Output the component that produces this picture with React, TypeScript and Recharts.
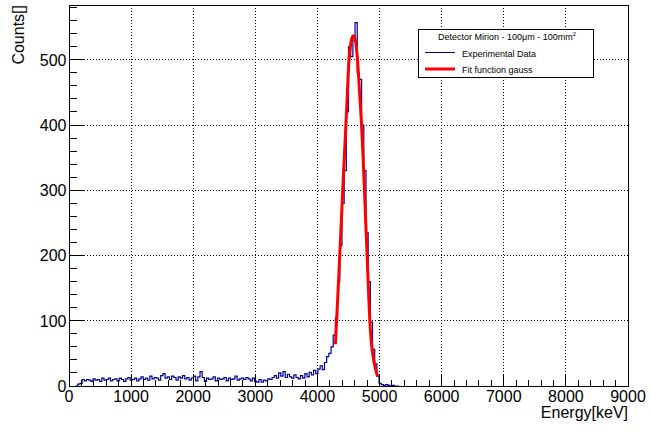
import React from "react";
import {
  CartesianGrid,
  ComposedChart,
  Line,
  ReferenceArea,
  XAxis,
  YAxis,
} from "recharts";

const FONT = '"Liberation Sans", Arial, Helvetica, sans-serif';
const HIST_COLOR = "#000099";
const FIT_COLOR = "#ff0000";

const E_MAX = 9000;
const N_BINS = 256;
const BIN_W = E_MAX / N_BINS;
const FIRST_BIN = 3;
const Y_MAX = 584;

// counts per bin, bins 3..59
const tailCounts = [
  0, 3, 4, 10, 8, 10, 9, 7, 11, 9, 10, 7, 12, 9, 10, 12, 8, 10, 11, 8, 12, 10,
  7, 11, 13, 9, 10, 12, 8, 11, 14, 10, 12, 9, 15, 11, 13, 12, 9, 16, 19, 12,
  14, 10, 15, 13, 9, 14, 12, 16, 11, 13, 9, 12, 15, 8, 14,
];
// bins 60..112
const plateauCounts = [
  22, 13, 7, 12, 10, 11, 14, 8, 12, 10, 11, 13, 8, 12, 10, 11, 15, 9, 11, 12,
  10, 13, 11, 8, 12, 7, 6, 10, 6, 9, 8, 11, 10, 13, 16, 12, 20, 15, 22, 13, 18,
  14, 12, 17, 13, 11, 16, 12, 19, 14, 21, 17, 24,
];
// bins 113..127
const riseCounts = [19, 26, 31, 25, 36, 45, 50, 60, 78, 104, 160, 215, 280, 330, 420];
// bins 128..136
const peakCounts = [520, 505, 530, 557, 480, 470, 400, 330, 235];
// bins 137..150
const fallCounts = [160, 98, 56, 34, 15, 4, 2, 1, 2, 1, 0, 1, 0, 0];

// gauss fit curve
const fitEnergy = [
  4290, 4308, 4334, 4359, 4383, 4407, 4432, 4458, 4482, 4508, 4540, 4575, 4610,
  4645, 4675, 4710, 4735, 4757, 4778, 4800, 4820, 4843, 4870, 4905, 4940, 4968,
];
const fitCounts = [
  64, 100, 150, 200, 250, 300, 350, 400, 450, 500, 527, 537, 530, 500, 455, 400,
  350, 300, 250, 200, 150, 100, 65, 40, 24, 15,
];

const xMajor = [0, 1000, 2000, 3000, 4000, 5000, 6000, 7000, 8000, 9000];
const yMajor = [0, 100, 200, 300, 400, 500];
const X_MINOR_STEP = 200;
const Y_MINOR_STEP = 20;

const counts = [
  ...tailCounts,
  ...plateauCounts,
  ...riseCounts,
  ...peakCounts,
  ...fallCounts,
];
const histData = counts.map((c, i) => ({ x: (FIRST_BIN + i) * BIN_W, y: c }));
histData.push({ x: (FIRST_BIN + counts.length) * BIN_W, y: 0 });

const fitData = fitEnergy.map((x, i) => ({ x, y: fitCounts[i] }));

const xTicks = Array.from({ length: E_MAX / X_MINOR_STEP + 1 }, (_, i) => i * X_MINOR_STEP);
const yTicks = Array.from(
  { length: Math.floor(Y_MAX / Y_MINOR_STEP) + 1 },
  (_, i) => i * Y_MINOR_STEP
);

function XTick(props: any) {
  const { x, y, payload } = props;
  const major = xMajor.includes(payload.value);
  return (
    <g>
      <line
        x1={x}
        x2={x}
        y1={y}
        y2={y - (major ? 11 : 6)}
        stroke="#000"
        shapeRendering="crispEdges"
      />
      {major && (
        <text
          x={x}
          y={y + 15.5}
          textAnchor="middle"
          fontSize={16}
          fontFamily={FONT}
          fill="#000"
        >
          {payload.value}
        </text>
      )}
    </g>
  );
}

function YTick(props: any) {
  const { x, y, payload } = props;
  const major = yMajor.includes(payload.value);
  return (
    <g>
      <line
        x1={x}
        x2={x + (major ? 16 : 8)}
        y1={y}
        y2={y}
        stroke="#000"
        shapeRendering="crispEdges"
      />
      {major && (
        <text
          x={x - 2.5}
          y={y}
          dy="0.36em"
          textAnchor="end"
          fontSize={16}
          fontFamily={FONT}
          fill="#000"
        >
          {payload.value}
        </text>
      )}
    </g>
  );
}

export default function App() {
  return (
    <div
      style={{
        position: "absolute",
        left: 0,
        top: 0,
        width: 651,
        height: 434,
        background: "#fff",
      }}
    >
      <ComposedChart
        width={651}
        height={434}
        margin={{ top: 5, right: 23, left: 0, bottom: 0 }}
      >
        <CartesianGrid
          stroke="#000"
          strokeDasharray="1 2"
          shapeRendering="crispEdges"
          verticalValues={xMajor.slice(1, -1)}
          horizontalValues={yMajor.slice(1)}
        />
        <XAxis
          type="number"
          dataKey="x"
          domain={[0, E_MAX]}
          ticks={xTicks}
          interval={0}
          height={48}
          tickSize={0}
          tickMargin={0}
          tickLine={false}
          axisLine={false}
          allowDataOverflow
          tick={<XTick />}
        />
        <YAxis
          type="number"
          dataKey="y"
          domain={[0, Y_MAX]}
          ticks={yTicks}
          interval={0}
          width={69}
          tickSize={0}
          tickMargin={0}
          tickLine={false}
          axisLine={false}
          allowDataOverflow
          tick={<YTick />}
        />
        <Line
          data={histData}
          dataKey="y"
          type="stepAfter"
          stroke={HIST_COLOR}
          strokeWidth={1.2}
          dot={false}
          isAnimationActive={false}
        />
        <Line
          data={fitData}
          dataKey="y"
          type="monotone"
          stroke={FIT_COLOR}
          strokeWidth={3}
          dot={false}
          isAnimationActive={false}
        />
        <ReferenceArea
          x1={0}
          x2={E_MAX}
          y1={0}
          y2={Y_MAX}
          fill="none"
          stroke="#000"
          strokeWidth={1}
          shapeRendering="crispEdges"
          ifOverflow="visible"
        />
      </ComposedChart>
      <svg
        width={651}
        height={434}
        style={{ position: "absolute", left: 0, top: 0, pointerEvents: "none" }}
        fontFamily={FONT}
      >
        <text
          transform="translate(24,5) rotate(-90)"
          textAnchor="end"
          fontSize={16}
          fill="#000"
        >
          Counts[]
        </text>
        <text x={628} y={418} textAnchor="end" fontSize={16} fill="#000">
          Energy[keV]
        </text>
        <rect
          x={418.5}
          y={29.5}
          width={175}
          height={48}
          fill="#fff"
          stroke="#000"
          shapeRendering="crispEdges"
        />
        <text x={507} y={39.5} textAnchor="middle" fontSize={9} fill="#000">
          Detector Mirion - 100μm - 100mm
          <tspan dy={-4} fontSize={6}>
            2
          </tspan>
        </text>
        <line x1={425} x2={455} y1={52.5} y2={52.5} stroke={HIST_COLOR} />
        <text x={462} y={56.5} fontSize={9} fill="#000">
          Experimental Data
        </text>
        <line x1={425} x2={455} y1={69} y2={69} stroke={FIT_COLOR} strokeWidth={3} />
        <text x={462} y={72.5} fontSize={9} fill="#000">
          Fit function gauss
        </text>
      </svg>
    </div>
  );
}
